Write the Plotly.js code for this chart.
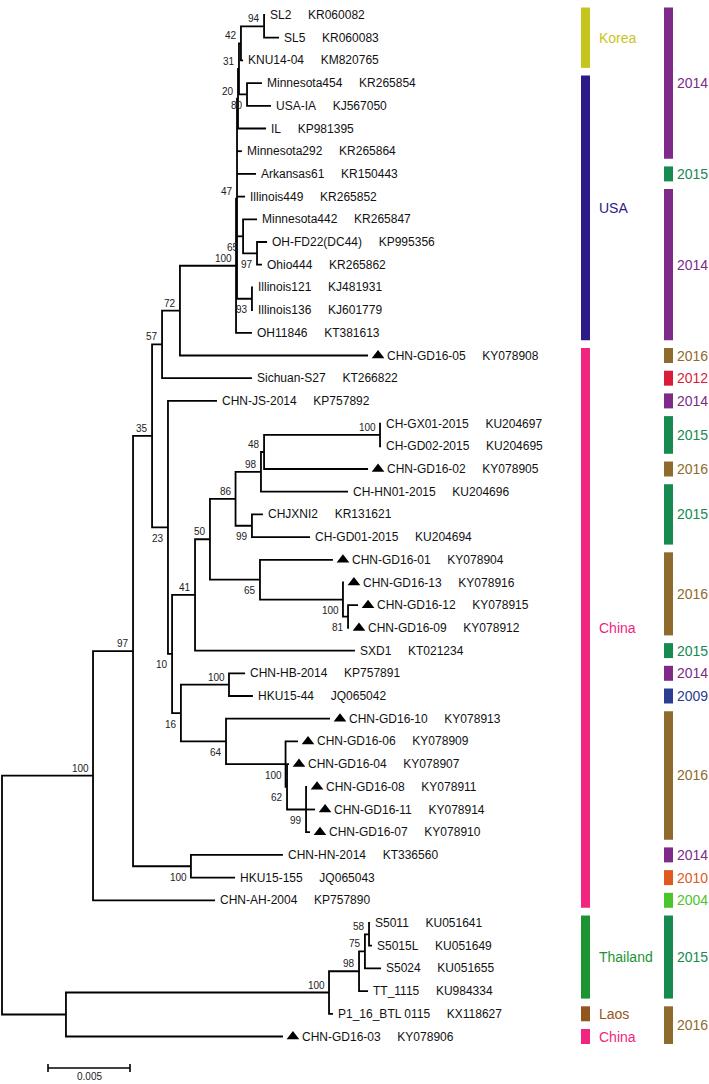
<!DOCTYPE html>
<html><head><meta charset="utf-8">
<script src="https://cdn.plot.ly/plotly-3.0.1.min.js"></script>
<style>html,body{margin:0;padding:0;background:#fff}#chart{width:709px;height:1084px}</style>
</head><body><div id="chart"></div>
<script>
// ================= DATA =================
// Leaves, top to bottom
const leafNames = ['SL2','SL5','KNU14-04','Minnesota454','USA-IA','IL','Minnesota292','Arkansas61','Illinois449','Minnesota442','OH-FD22(DC44)','Ohio444','Illinois121','Illinois136','OH11846','CHN-GD16-05','Sichuan-S27','CHN-JS-2014','CH-GX01-2015','CH-GD02-2015','CHN-GD16-02','CH-HN01-2015','CHJXNI2','CH-GD01-2015','CHN-GD16-01','CHN-GD16-13','CHN-GD16-12','CHN-GD16-09','SXD1','CHN-HB-2014','HKU15-44','CHN-GD16-10','CHN-GD16-06','CHN-GD16-04','CHN-GD16-08','CHN-GD16-11','CHN-GD16-07','CHN-HN-2014','HKU15-155','CHN-AH-2004','S5011','S5015L','S5024','TT_1115','P1_16_BTL 0115','CHN-GD16-03'];
const leafAccessions = ['KR060082','KR060083','KM820765','KR265854','KJ567050','KP981395','KR265864','KR150443','KR265852','KR265847','KP995356','KR265862','KJ481931','KJ601779','KT381613','KY078908','KT266822','KP757892','KU204697','KU204695','KY078905','KU204696','KR131621','KU204694','KY078904','KY078916','KY078915','KY078912','KT021234','KP757891','JQ065042','KY078913','KY078909','KY078907','KY078911','KY078914','KY078910','KT336560','JQ065043','KP757890','KU051641','KU051649','KU051655','KU984334','KX118627','KY078906'];
// parent internal node of each leaf
const leafParent = [12,12,11,13,13,9,8,8,8,14,15,15,16,16,7,6,5,17,24,24,23,22,25,25,26,27,28,28,19,30,30,31,32,33,34,34,34,35,35,1,39,39,38,37,36,2];
// distance from root (substitutions/site)
const leafDepth = [0.01604,0.01689,0.01470,0.01585,0.01640,0.01610,0.01463,0.01549,0.01482,0.01555,0.01616,0.01585,0.01530,0.01530,0.01524,0.02232,0.01524,0.01311,0.02311,0.02311,0.02232,0.02110,0.01591,0.01878,0.02018,0.02085,0.02171,0.02116,0.02152,0.01482,0.01530,0.02000,0.01805,0.01750,0.01860,0.01909,0.01878,0.01713,0.01421,0.01299,0.02244,0.02256,0.02311,0.02232,0.02018,0.01713];

// Internal nodes (index 0 = root)
const nodeParent = [-1,0,0,1,3,4,5,6,7,8,9,10,11,10,8,14,8,4,17,18,19,20,21,22,23,21,20,26,27,18,29,29,31,32,33,3,2,36,37,38];
const nodeDepth = [0,0.00555,0.00390,0.00799,0.00915,0.00976,0.01085,0.01427,0.01433,0.01439,0.01445,0.01457,0.01598,0.01494,0.01470,0.01555,0.01524,0.01012,0.01037,0.01177,0.01268,0.01424,0.01579,0.01598,0.02305,0.01524,0.01573,0.02079,0.02110,0.01091,0.01384,0.01366,0.01729,0.01738,0.01854,0.01152,0.01994,0.02177,0.02213,0.02238];
const nodeSupport = [null,100,null,97,35,57,72,100,47,20,31,42,94,80,65,97,93,23,10,41,50,86,98,48,100,99,65,100,81,16,100,64,100,62,99,100,100,98,75,58];

// Country groups (leaf index ranges)
const countryNames = ['Korea','USA','China','Thailand','Laos','China'];
const countryFirstLeaf = [0,3,15,40,44,45];
const countryLastLeaf = [2,14,39,43,44,45];

// Year groups (leaf index ranges)
const yearLabels = ['2014','2015','2014','2016','2012','2014','2015','2016','2015','2016','2015','2014','2009','2016','2014','2010','2004','2015','2016'];
const yearFirstLeaf = [0,7,8,15,16,17,18,20,21,24,28,29,30,31,37,38,39,40,44];
const yearLastLeaf = [6,7,14,15,16,17,19,20,23,27,28,29,30,36,37,38,39,43,45];

const scaleBarLength = 0.005;
const scaleBarLabel = '0.005';

// ================= STYLE / LAYOUT =================
const W = 709, H = 1084;
const PX = 16400;                 // pixels per unit of distance
const X0PX = 2;                   // root pixel position
const Y0PX = 15, LEAFPX = 22.7;   // first leaf pixel, leaf spacing
const FONT = 'Liberation Sans, Arial, Helvetica, sans-serif';
const countryColors = {Korea:'#c6c51d', USA:'#2b1a87', China:'#ef2580', Thailand:'#1d9431', Laos:'#93561e'};
const yearColors = {'2014':'#7d2a89','2015':'#178a50','2016':'#8e6a2d','2012':'#d81d3b','2009':'#2c3c8e','2010':'#e0591f','2004':'#4cc42b'};
const supportBelow = new Set([13,14,15,16,17,18,25,26,27,28,29,31,32,33,34,35]);
const px2x = p => p / PX;

// ---- compute node y positions ----
const nN = nodeParent.length;
const kids = Array.from({length:nN}, () => []);
leafNames.forEach((_, i) => kids[leafParent[i]].push({x: leafDepth[i], y: i}));
const nodeY = new Array(nN).fill(0);
for (let k = nN - 1; k >= 0; k--) {
  const ys = kids[k].map(c => c.y);
  nodeY[k] = (Math.min(...ys) + Math.max(...ys)) / 2;
  if (nodeParent[k] >= 0) kids[nodeParent[k]].push({x: nodeDepth[k], y: nodeY[k]});
}

// ---- branches ----
const lx = [], ly = [];
for (let k = 0; k < nN; k++) {
  const cs = kids[k].slice().sort((a, b) => a.y - b.y);
  const t = cs[0], b = cs[cs.length - 1], nx = nodeDepth[k];
  lx.push(t.x, nx, nx, b.x, null); ly.push(t.y, t.y, b.y, b.y, null);
  for (let j = 1; j < cs.length - 1; j++) { lx.push(nx, cs[j].x, null); ly.push(cs[j].y, cs[j].y, null); }
}

const traces = [];
traces.push({type:'scatter', mode:'lines', x:lx, y:ly, line:{color:'#000', width:1.8, simplify:false}, hoverinfo:'skip', showlegend:false});

// ---- triangles for new isolates ----
const triIdx = leafNames.map((n, i) => n.startsWith('CHN-GD16') ? i : -1).filter(i => i >= 0);
traces.push({type:'scatter', mode:'markers', x: triIdx.map(i => leafDepth[i] + px2x(10)), y: triIdx,
  marker:{symbol:'triangle-up', size:11, color:'#000', line:{width:0}}, hoverinfo:'skip', showlegend:false});

// ---- scale bar ----
const sbX0 = px2x(46), sbY = (1068 - Y0PX) / LEAFPX, tick = 4 / LEAFPX;
traces.push({type:'scatter', mode:'lines',
  x:[sbX0, sbX0 + scaleBarLength, null, sbX0, sbX0, null, sbX0 + scaleBarLength, sbX0 + scaleBarLength],
  y:[sbY, sbY, null, sbY - tick, sbY + tick, null, sbY - tick, sbY + tick],
  line:{color:'#000', width:1.6}, hoverinfo:'skip', showlegend:false});

const annotations = [];
const NB = '\u00a0\u00a0\u00a0\u00a0\u00a0';
leafNames.forEach((n, i) => {
  const tri = n.startsWith('CHN-GD16');
  annotations.push({x: leafDepth[i], y: i, xref:'x', yref:'y', xanchor:'left', yanchor:'middle',
    xshift: tri ? 17 : 3, text: n + NB + leafAccessions[i], showarrow:false,
    font:{family:FONT, size:12, color:'#111'}});
});
nodeSupport.forEach((s, k) => {
  if (s === null) return;
  annotations.push({x: nodeDepth[k], y: nodeY[k], xref:'x', yref:'y', xanchor:'right', yanchor:'middle',
    xshift:-2, yshift: supportBelow.has(k) ? -11 : 7.5, text: String(s), showarrow:false,
    font:{family:FONT, size:10, color:'#222'}});
});
annotations.push({x: sbX0 + scaleBarLength / 2, y: sbY, xref:'x', yref:'y', xanchor:'center', yanchor:'middle',
  yshift:-8, borderpad:0, text: scaleBarLabel, showarrow:false, font:{family:FONT, size:10, color:'#222'}});

// ---- side bars ----
const shapes = [];
const HALF = 0.33;
countryNames.forEach((c, g) => {
  const a = countryFirstLeaf[g] - HALF, b = countryLastLeaf[g] + HALF;
  shapes.push({type:'rect', xref:'paper', yref:'y', x0:581/W, x1:590/W, y0:a, y1:b, fillcolor:countryColors[c], line:{width:0}});
  annotations.push({xref:'paper', yref:'y', x:597/W, y:(a + b) / 2, xanchor:'left', yanchor:'middle', text:c, showarrow:false,
    font:{family:FONT, size:14, color:countryColors[c]}});
});
yearLabels.forEach((yl, g) => {
  const a = yearFirstLeaf[g] - HALF, b = yearLastLeaf[g] + HALF;
  shapes.push({type:'rect', xref:'paper', yref:'y', x0:664/W, x1:673/W, y0:a, y1:b, fillcolor:yearColors[yl], line:{width:0}});
  annotations.push({xref:'paper', yref:'y', x:675/W, y:(a + b) / 2, xanchor:'left', yanchor:'middle', text:yl, showarrow:false,
    font:{family:FONT, size:14, color:yearColors[yl]}});
});

const layout = {
  width:W, height:H, margin:{l:0, r:0, t:0, b:0}, paper_bgcolor:'#fff', plot_bgcolor:'#fff',
  xaxis:{visible:false, range:[-X0PX / PX, (W - X0PX) / PX], fixedrange:true},
  yaxis:{visible:false, range:[(H - Y0PX) / LEAFPX, -Y0PX / LEAFPX], fixedrange:true},
  showlegend:false, hovermode:false, annotations, shapes
};
Plotly.newPlot('chart', traces, layout, {displayModeBar:false, staticPlot:true});
</script></body></html>
